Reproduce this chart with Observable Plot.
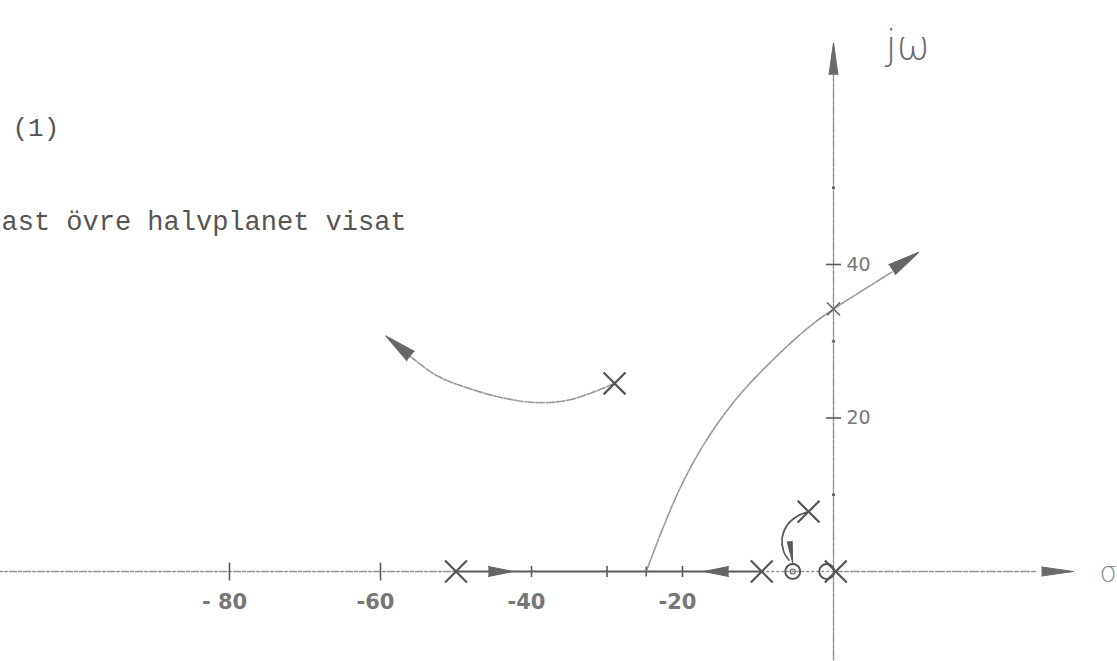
<!DOCTYPE html>
<html>
<head>
<meta charset="utf-8">
<script src="https://cdn.jsdelivr.net/npm/d3@7"></script>
<script src="https://cdn.jsdelivr.net/npm/@observablehq/plot@0.6"></script>
<style>
  html, body { margin: 0; padding: 0; background: #fff; }
  #chart { width: 1117px; height: 661px; overflow: hidden; }
  #chart svg { display: block; }
</style>
</head>
<body>
<div id="chart"></div>
<script>
// Root locus in the s-plane (σ + jω), upper half plane only.

// open-loop poles (×) and zeros (○)
const poles = [
  {re: -50, im: 0},
  {re: -9.5, im: 0},
  {re: 0.3, im: 0},
  {re: -29, im: 24.5},
  {re: -3.3, im: 7.8}
];
const zeros = [
  {re: -5.4, im: 0},
  {re: -0.9, im: 0}
];
// where the locus crosses the jω axis
const crossings = [{re: 0, im: 34.2}];

// locus branches, [σ, ω]
const branchComplex = [
  [-29, 24.5], [-34.8, 22.4], [-39.2, 22.0], [-43.7, 22.6],
  [-48.1, 23.8], [-52.5, 25.5], [-56.4, 28.3], [-58.0, 29.6]
];
const branchBreakaway = [
  [-24.8, 0], [-22.9, 4.9], [-20.3, 10.9], [-16.9, 17.0], [-12.7, 22.7],
  [-7.9, 27.7], [-3.3, 31.8], [0, 34.2], [3.5, 36.4], [7.7, 39.0]
];
const branchNearZero = [
  [-3.3, 7.8], [-4.8, 7.2], [-6.1, 6.1], [-6.8, 4.4], [-6.6, 2.6], [-5.9, 1.5]
];
// locus on the real axis, between the poles at -50 and -9.5
const realSegment = [[-50, 0], [-9.5, 0]];

// direction arrows: tip position and heading (degrees, clockwise from up)
const branchArrows = [
  {re: -59.3, im: 30.7, dir: -51},
  {re: 11.3, im: 41.6, dir: 57}
];
const realArrows = [
  {re: -42.4, im: 0, dir: 90},
  {re: -17.2, im: 0, dir: -90}
];
const zeroArrow = [{re: -5.4, im: 1.1, dir: 172}];
const axisArrows = [
  {re: 31.8, im: 0, dir: 90},
  {re: 0, im: 68.9, dir: 0}
];

// axis ticks and labels
const xMajorTicks = [-80, -60];
const xMinorTicks = [-40, -30, -20];
const xTickLabels = [-80, -60, -40, -20];
const xTickText = ["- 80", "-60", "-40", "-20"];
const yTicks = [20, 40];
const yTickText = ["20", "40"];
const yDots = [10, 30, 50];

const sigmaExtent = [-111, 27];
const omegaExtent = [-11.5, 66];

const pencil = "#939393";
const lead = "#5a5a5a";

// short strokes used as tick marks
const vBar = {draw(ctx, size) { const h = Math.sqrt(size / Math.PI); ctx.moveTo(0, -h); ctx.lineTo(0, h); }};
const hBar = {draw(ctx, size) { const h = Math.sqrt(size / Math.PI); ctx.moveTo(-h, 0); ctx.lineTo(h, 0); }};

const chart = Plot.plot({
  width: 1117,
  height: 661,
  margin: 0,
  x: {domain: [-80, 0], range: [229, 833], axis: null},
  y: {domain: [0, 40], range: [571, 264], axis: null},
  style: {background: "#fff", overflow: "hidden"},
  marks: [
    // real axis
    Plot.line([[sigmaExtent[0], 0], [-50, 0]], {x: d => d[0], y: d => d[1], stroke: pencil, strokeWidth: 1.3, strokeDasharray: "7 2 3 2"}),
    Plot.line([[-9.5, 0], [0, 0]], {x: d => d[0], y: d => d[1], stroke: pencil, strokeWidth: 1.3, strokeDasharray: "2 3"}),
    Plot.line([[0, 0], [sigmaExtent[1], 0]], {x: d => d[0], y: d => d[1], stroke: pencil, strokeWidth: 1.3, strokeDasharray: "9 2 4 2"}),
    // imaginary axis
    Plot.line([[0, omegaExtent[0]], [0, omegaExtent[1]]], {x: d => d[0], y: d => d[1], stroke: pencil, strokeWidth: 1.4, strokeDasharray: "10 1.5 4 1.5"}),

    // ticks
    Plot.dot(xMajorTicks, {x: d => d, y: 0, symbol: vBar, r: 9, stroke: lead, strokeWidth: 1.6, fill: "none"}),
    Plot.dot(xMinorTicks, {x: d => d, y: 0, symbol: vBar, r: 5.5, stroke: lead, strokeWidth: 1.6, fill: "none"}),
    Plot.dot(yTicks, {x: 0, y: d => d, symbol: hBar, r: 7.5, stroke: lead, strokeWidth: 1.6, fill: "none"}),
    Plot.dot(yDots, {x: 0, y: d => d, r: 1.6, fill: lead}),
    Plot.text(xTickLabels, {x: d => d, y: 0, text: (d, i) => xTickText[i], dy: 31, dx: -5,
      fontFamily: "DejaVu Sans", fontWeight: "bold", fontSize: 21, fill: "#777"}),
    Plot.text(yTicks, {x: 0, y: d => d, text: (d, i) => yTickText[i], dx: 13, textAnchor: "start",
      fontFamily: "DejaVu Sans", fontSize: 19, fill: "#777"}),

    // locus branches
    Plot.line(realSegment, {x: d => d[0], y: d => d[1], stroke: lead, strokeWidth: 2.2}),
    Plot.line(branchComplex, {x: d => d[0], y: d => d[1], curve: "catmull-rom", stroke: "#9a9a9a", strokeWidth: 1.7, strokeDasharray: "5 1.5 2 2"}),
    Plot.line(branchBreakaway, {x: d => d[0], y: d => d[1], curve: "catmull-rom", stroke: "#999", strokeWidth: 1.6, strokeDasharray: "12 1.5 3 1.5"}),
    Plot.line(branchNearZero, {x: d => d[0], y: d => d[1], curve: "catmull-rom", stroke: lead, strokeWidth: 1.7}),
    Plot.dot([branchBreakaway[0]], {x: d => d[0], y: d => d[1], symbol: vBar, r: 5, stroke: lead, strokeWidth: 1.5, fill: "none"}),

    // arrowheads
    Plot.vector(branchArrows, {x: "re", y: "im", rotate: "dir", anchor: "end", shape: "spike", length: 32, r: 6, stroke: "#666", fill: "#666", strokeWidth: 1}),
    Plot.vector(realArrows, {x: "re", y: "im", rotate: "dir", anchor: "end", shape: "spike", length: 25, r: 5, stroke: "#666", fill: "#666", strokeWidth: 1}),
    Plot.vector(zeroArrow, {x: "re", y: "im", rotate: "dir", anchor: "end", shape: "spike", length: 22, r: 2.5, stroke: lead, fill: lead, strokeWidth: 1}),
    Plot.vector(axisArrows, {x: "re", y: "im", rotate: "dir", anchor: "end", shape: "spike", length: 32, r: 4.5, stroke: "#6a6a6a", fill: "#6a6a6a", strokeWidth: 1}),

    // poles, zeros, jω crossing
    Plot.dot(poles, {x: "re", y: "im", symbol: "times", r: 10, stroke: "#555", strokeWidth: 2.2}),
    Plot.dot(zeros, {x: "re", y: "im", symbol: "circle", r: 7.5, stroke: "#555", strokeWidth: 2, fill: "none"}),
    Plot.dot([zeros[0]], {x: "re", y: "im", symbol: "circle", r: 2.5, stroke: "#666", strokeWidth: 1.2, fill: "none"}),
    Plot.dot(crossings, {x: "re", y: "im", symbol: "times", r: 6, stroke: "#666", strokeWidth: 1.6}),

    // axis names
    Plot.text(["jω"], {frameAnchor: "top-left", dx: 885, dy: 30, fontFamily: "DejaVu Sans", fontWeight: 200, fontSize: 40, fill: "#6a6a6a"}),
    Plot.text(["σ"], {frameAnchor: "top-left", dx: 1099, dy: 562, fontFamily: "DejaVu Sans", fontWeight: 200, fontSize: 28, fill: "#8a8a8a"}),

    // typed annotations
    Plot.text(["(1)"], {frameAnchor: "top-left", dx: 12, dy: 135, lineAnchor: "bottom", textAnchor: "start",
      fontFamily: "Liberation Mono", fontSize: 26, fill: "#555"}),
    Plot.text(["ast övre halvplanet visat"], {frameAnchor: "top-left", dx: 1, dy: 229, lineAnchor: "bottom", textAnchor: "start",
      fontFamily: "Liberation Mono", fontSize: 27, fill: "#555"})
  ]
});

document.getElementById("chart").append(chart);
</script>
</body>
</html>
